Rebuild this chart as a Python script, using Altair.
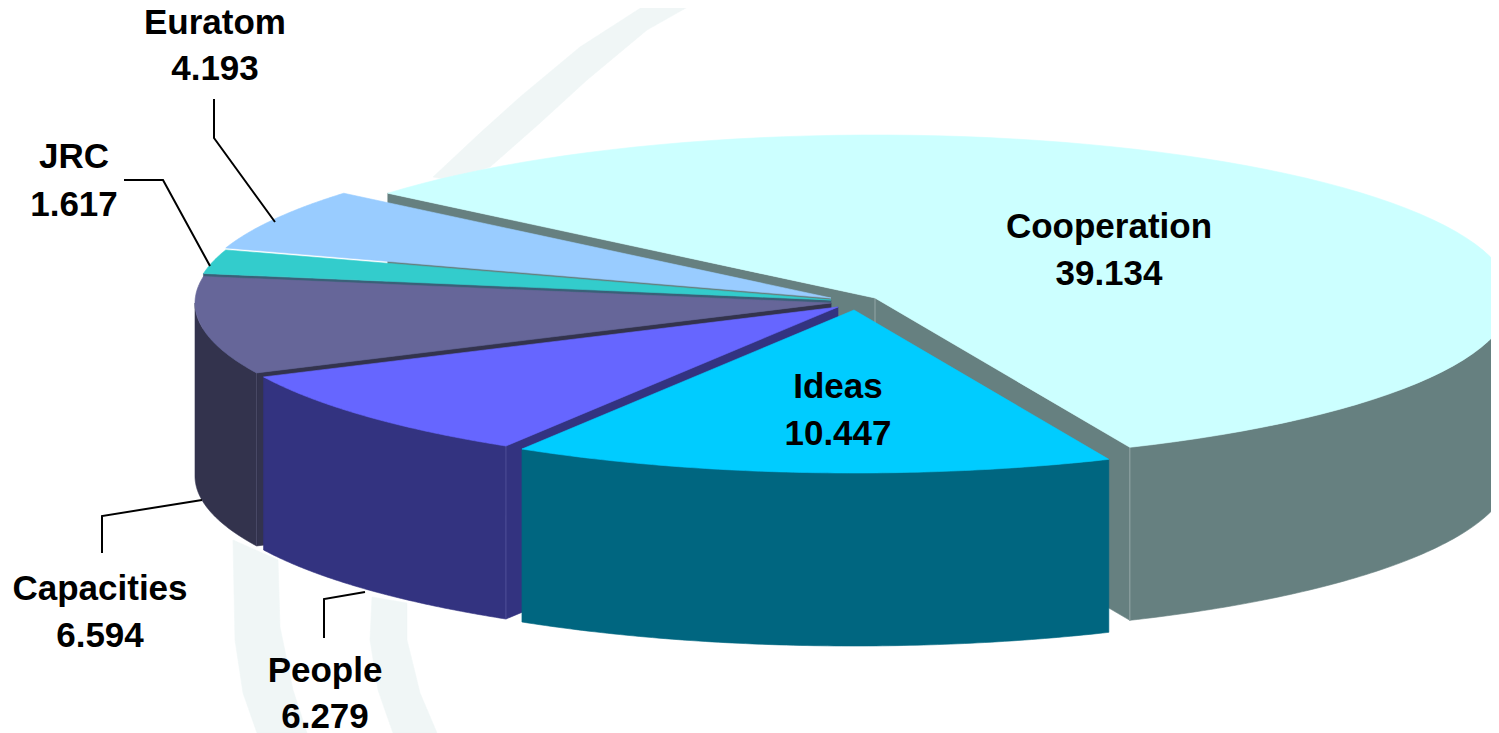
import numpy as np
import pandas as pd
import altair as alt

# ---- data
names = ["Cooperation", "Ideas", "People", "Capacities", "JRC", "Euratom"]
values = [39.134, 10.447, 6.279, 6.594, 1.617, 4.193]

# ---- styles
top_colors = ["#CCFFFF", "#00CCFF", "#6666FF", "#666699", "#33CCCC", "#99CCFF"]
side_colors = ["#668080", "#006680", "#333380", "#33334D", "#3A6078", "#4D6680"]
edge_colors = ["#94A6A6", "#006680", "#50509A", "#4A4A66", "#3A6078", "#4D6680"]
swoosh_color = "#F0F6F6"
font = "Liberation Sans"

# ---- layout: pie geometry, in picture pixels
centres = {"Cooperation": (875, 298), "Ideas": (854, 310), "People": (838, 307),
           "Capacities": (831, 303), "JRC": (831, 300), "Euratom": (831, 298)}
RX, RY, DEPTH, FIRST_ANGLE = 636, 163, 173, 220
X0, Y0, X1, Y1 = 8, 8, 1491, 733

# background watermark outline
swooshes = [
    [(433, 177), (480, 133), (520, 97), (580, 47), (653, 0), (700, 0), (647, 30), (587, 80), (540, 123), (490, 167), (450, 180)],
    [(233, 540), (235, 640), (243, 693), (257, 733), (307, 733), (293, 690), (280, 627), (278, 560)],
    [(372, 597), (370, 640), (378, 690), (393, 733), (437, 733), (420, 693), (407, 640), (407, 603)],
]
leaders = [
    [(214, 99), (214, 138), (275, 222)],
    [(124, 180), (163, 180), (210, 266)],
    [(102, 553), (102, 516), (202, 500)],
    [(324, 638), (324, 599), (365, 592)],
]
# label anchor: centre x, baseline of first line, baseline of second line
label_pos = {"Cooperation": (1109, 238, 285), "Ideas": (838, 398, 445), "People": (325, 682, 728),
             "Capacities": (100, 600, 647), "JRC": (74, 168, 216), "Euratom": (215, 34, 80)}

# ---- geometry from the values
total = sum(values)
angles = {}
a = FIRST_ANGLE
for n, v in zip(names, values):
    span = v / total * 360
    wrap = 0 if n == names[0] else 360
    angles[n] = (a - wrap, a + span - wrap)
    a += span


def rim(n, t0, t1, dz=0):
    cx, cy = centres[n]
    t = np.radians(np.linspace(t0, t1, 90))
    return list(zip(cx + RX * np.cos(t), cy + RY * np.sin(t) + dz))


def rim_pt(n, t, dz=0):
    cx, cy = centres[n]
    r = np.radians(t)
    return (cx + RX * np.cos(r), cy + RY * np.sin(r) + dz)


def x_enc():
    return alt.X("x:Q", scale=alt.Scale(domain=[X0, X1], nice=False, zero=False), axis=None)


def y_enc():
    return alt.Y("y:Q", scale=alt.Scale(domain=[Y0, Y1], nice=False, zero=False, reverse=True), axis=None)


def shape(pts, fill):
    closed = list(pts) + [pts[0]]
    df = pd.DataFrame({"x": [float(p[0]) for p in closed], "y": [float(p[1]) for p in closed], "i": range(len(closed))})
    return alt.Chart(df).mark_line(fill=fill, stroke=fill, strokeWidth=0.6, clip=True).encode(
        x=x_enc(), y=y_enc(), order=alt.Order("i:Q"))


def path(pts, color, width):
    df = pd.DataFrame({"x": [float(p[0]) for p in pts], "y": [float(p[1]) for p in pts], "i": range(len(pts))})
    return alt.Chart(df).mark_line(stroke=color, strokeWidth=width, clip=True).encode(
        x=x_enc(), y=y_enc(), order=alt.Order("i:Q"))


def top(n):
    t0, t1 = angles[n]
    return shape([centres[n]] + rim(n, t0, t1), top_colors[names.index(n)])


def face(n, t):
    cx, cy = centres[n]
    return shape([(cx, cy), rim_pt(n, t), rim_pt(n, t, DEPTH), (cx, cy + DEPTH)], side_colors[names.index(n)])


def wall(n, t0, t1):
    return shape(rim(n, t0, t1) + rim(n, t1, t0, DEPTH), side_colors[names.index(n)])


def edge(n, t):
    c = edge_colors[names.index(n)]
    return path([rim_pt(n, t), rim_pt(n, t, DEPTH)], c, 1)


layers = [shape(s, swoosh_color) for s in swooshes]

# Cooperation: back face, front face, wall, top
ca0, ca1 = angles["Cooperation"]
cx, cy = centres["Cooperation"]
layers += [face("Cooperation", ca0), face("Cooperation", ca1), wall("Cooperation", ca1 - 360, 0),
           edge("Cooperation", ca1), path([(cx, cy), (cx, cy + DEPTH)], edge_colors[0], 1), top("Cooperation")]
# Euratom, JRC
layers += [top("Euratom"), face("JRC", angles["JRC"][0]), top("JRC")]
# Capacities
layers += [face("Capacities", angles["Capacities"][0]), wall("Capacities", angles["Capacities"][0], 180),
           edge("Capacities", angles["Capacities"][0]), top("Capacities")]
# People
layers += [face("People", angles["People"][0]), wall("People", angles["People"][0], angles["People"][1]),
           edge("People", angles["People"][0]), top("People")]
# Ideas
layers += [wall("Ideas", angles["Ideas"][0], angles["Ideas"][1]), top("Ideas")]

layers += [path(l, "#000000", 2) for l in leaders]

# labels
rows = []
for n, v in zip(names, values):
    lx, y1, y2 = label_pos[n]
    rows.append({"x": lx, "y": y1, "t": n})
    rows.append({"x": lx, "y": y2, "t": f"{v:.3f}"})
labels = alt.Chart(pd.DataFrame(rows)).mark_text(
    font=font, fontSize=35, fontWeight="bold", color="#000000", align="center", baseline="alphabetic"
).encode(x=x_enc(), y=y_enc(), text="t:N")
layers.append(labels)

chart = alt.layer(*layers).properties(
    width=X1 - X0, height=Y1 - Y0, padding=0, autosize=alt.AutoSizeParams(type="none"),
    background="white"
).configure_view(stroke=None)

chart.save("out.html", embed_options={"renderer": "svg", "actions": False})
